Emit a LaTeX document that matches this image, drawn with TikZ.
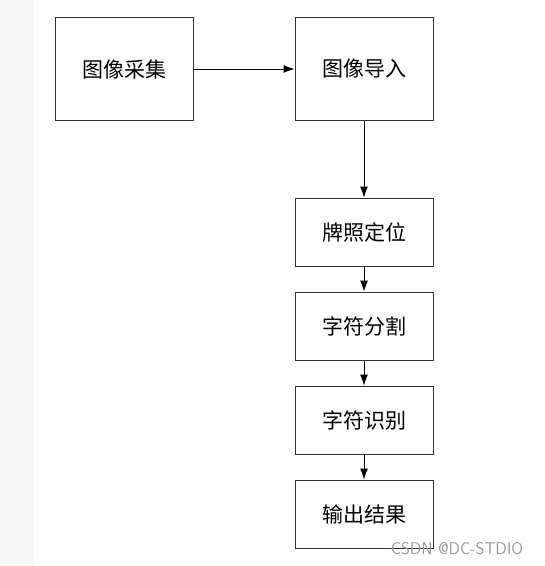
\documentclass[tikz,border=0pt]{standalone}
\usepackage{fontspec}
\newfontfamily\cjk{Noto Sans CJK SC}
\usetikzlibrary{arrows.meta}

\begin{document}
\begin{tikzpicture}[x=1pt, y=-1pt,
    box/.style={draw=black!80, line width=0.9pt, minimum width=138pt, font=\cjk\fontsize{21}{24}\selectfont},
    flow/.style={-{Latex[length=11pt,width=8pt]}, line width=0.9pt}]
    \useasboundingbox (0,0) rectangle (545,566);
    \fill[black!3] (0,0) rectangle (34,566);
    \node[box, minimum height=103pt] (caiji) at (124,69) {图像采集};
    \node[box, minimum height=103pt] (daoru) at (364,69) {图像导入};
    \node[box, minimum height=68pt] (dingwei) at (364,232) {牌照定位};
    \node[box, minimum height=68pt] (fenge) at (364,326) {字符分割};
    \node[box, minimum height=68pt] (shibie) at (364,420) {字符识别};
    \node[box, minimum height=68pt] (jieguo) at (364,514) {输出结果};
    \draw[flow] (caiji) -- (daoru);
    \draw[flow] (daoru) -- (dingwei);
    \draw[flow] (dingwei) -- (fenge);
    \draw[flow] (fenge) -- (shibie);
    \draw[flow] (shibie) -- (jieguo);
    \node[text=black!40, font=\fontsize{17}{19}\selectfont\sffamily] (mark) at (457,549) {CSDN @DC-STDIO};
\end{tikzpicture}
\end{document}
